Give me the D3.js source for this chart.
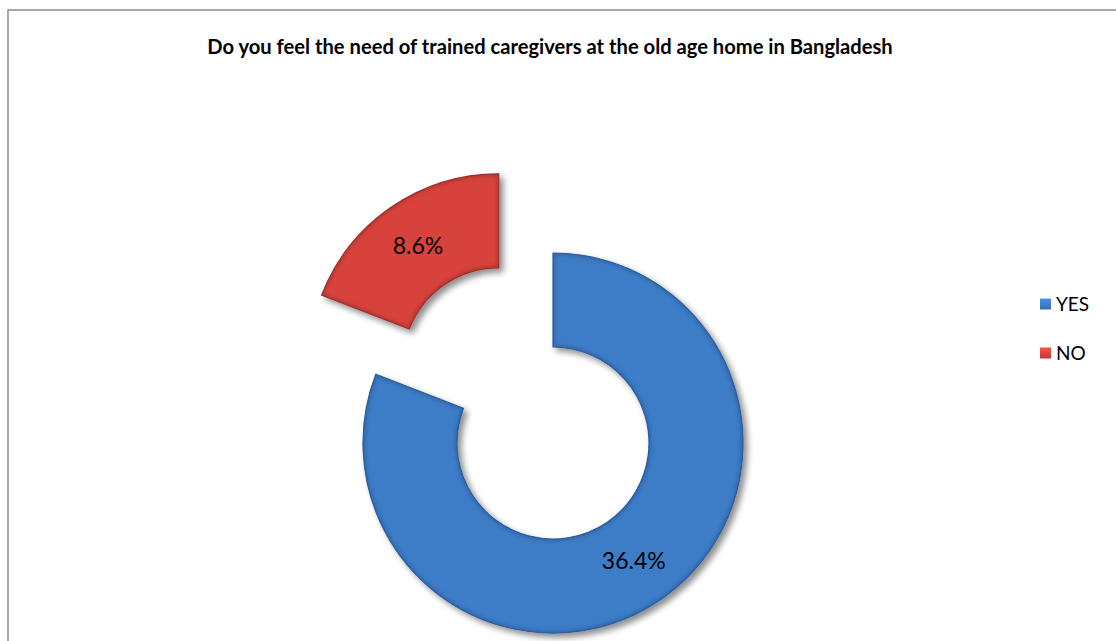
<!DOCTYPE html>
<html>
<head>
<meta charset="utf-8">
<script src="https://cdn.jsdelivr.net/npm/d3@7"></script>
<style>
  html, body { margin: 0; padding: 0; background: #ffffff; }
  svg { display: block; }
</style>
</head>
<body>
<svg id="chart" width="1116" height="641"></svg>
<script>
// Survey answers and their shares (percent)
const categories = ["YES", "NO"];
const values = [36.4, 8.6];
const valueLabels = ["36.4%", "8.6%"];
const colors = ["#3e7bc6", "#d8433d"];
const edgeColors = ["#2c5d9a", "#9e2f2b"];
const titleText = "Do you feel the need of trained caregivers at the old age home in Bangladesh";

const svg = d3.select("#chart");
const W = 1116, H = 641;

// Chart frame (the right and bottom edges run off the page)
svg.append("rect")
  .attr("x", 8).attr("y", 10)
  .attr("width", W + 20).attr("height", H + 20)
  .attr("fill", "#ffffff")
  .attr("stroke", "#8a8a8a").attr("stroke-width", 1.5);

const defs = svg.append("defs");

// Soft drop shadow under the ring pieces
const shadow = defs.append("filter").attr("id", "shadow")
  .attr("x", "-20%").attr("y", "-20%").attr("width", "140%").attr("height", "140%");
shadow.append("feGaussianBlur").attr("in", "SourceAlpha").attr("stdDeviation", 3).attr("result", "blur");
shadow.append("feOffset").attr("in", "blur").attr("dx", 4).attr("dy", 4).attr("result", "off");
shadow.append("feComponentTransfer").attr("in", "off").attr("result", "soft")
  .append("feFuncA").attr("type", "linear").attr("slope", 0.45);
const merge = shadow.append("feMerge");
merge.append("feMergeNode").attr("in", "soft");
merge.append("feMergeNode").attr("in", "SourceGraphic");

// Gentle bevel blur for the inner edge highlight
const bevel = defs.append("filter").attr("id", "bevel");
bevel.append("feGaussianBlur").attr("stdDeviation", 1.6);

// Legend square gradients
categories.forEach((c, i) => {
  const g = defs.append("linearGradient").attr("id", "lg" + i)
    .attr("x1", 0).attr("y1", 0).attr("x2", 0).attr("y2", 1);
  g.append("stop").attr("offset", "0%").attr("stop-color", d3.color(colors[i]).brighter(0.5));
  g.append("stop").attr("offset", "100%").attr("stop-color", d3.color(colors[i]).darker(0.4));
});

// Title
const title = svg.append("text")
  .attr("x", 550).attr("y", 54)
  .attr("text-anchor", "middle")
  .attr("font-family", "Lato, 'Open Sans', sans-serif")
  .attr("font-weight", "bold")
  .attr("font-size", 16)
  .attr("fill", "#000")
  .text(titleText);
{
  const w = title.node().getComputedTextLength();
  title.attr("font-size", 16 * 686 / w);
}

// Donut
const cx = 553, cy = 443;
const outerR = 190, innerR = 96, explode = 96;

const pie = d3.pie().sort(null).value(d => d.value).startAngle(0).endAngle(2 * Math.PI);
const data = pie(categories.map((c, i) => ({ name: c, value: values[i], label: valueLabels[i], i })));

const arc = d3.arc().innerRadius(innerR).outerRadius(outerR);
const midR = (innerR + outerR) / 2;

const slices = svg.append("g").attr("transform", `translate(${cx},${cy})`);

const slice = slices.selectAll("g.slice").data(data).join("g")
  .attr("class", "slice")
  .attr("transform", d => {
    if (d.data.name !== "NO") return null;
    const a = (d.startAngle + d.endAngle) / 2;
    return `translate(${explode * Math.sin(a)},${-explode * Math.cos(a)})`;
  });

slice.append("path")
  .attr("d", arc)
  .attr("fill", d => colors[d.data.i])
  .attr("stroke", d => edgeColors[d.data.i])
  .attr("stroke-width", 1.2)
  .attr("filter", "url(#shadow)");

// Slight dark rim inside each piece for a bevelled look
const clip = slice.append("clipPath").attr("id", d => "clip" + d.data.i);
clip.append("path").attr("d", arc);
slice.append("path")
  .attr("d", arc)
  .attr("fill", "none")
  .attr("stroke", d => edgeColors[d.data.i])
  .attr("stroke-opacity", 0.55)
  .attr("stroke-width", 5)
  .attr("filter", "url(#bevel)")
  .attr("clip-path", d => `url(#clip${d.data.i})`);

slice.append("text")
  .attr("transform", d => {
    const a = (d.startAngle + d.endAngle) / 2;
    return `translate(${midR * Math.sin(a)},${-midR * Math.cos(a)})`;
  })
  .attr("text-anchor", "middle")
  .attr("dy", "0.36em")
  .attr("font-family", "Lato, 'Open Sans', sans-serif")
  .attr("font-size", 23)
  .attr("fill", "#000")
  .text(d => d.data.label);

// Legend
const legend = svg.append("g").attr("transform", "translate(1040,0)");
const legendY = d3.scalePoint().domain(categories).range([304, 353]);
const item = legend.selectAll("g").data(categories).join("g")
  .attr("transform", d => `translate(0,${legendY(d)})`);
item.append("rect")
  .attr("x", 0).attr("y", -5.5)
  .attr("width", 11).attr("height", 11)
  .attr("fill", (d, i) => `url(#lg${i})`);
item.append("text")
  .attr("x", 16).attr("dy", "0.36em")
  .attr("font-family", "Lato, 'Open Sans', sans-serif")
  .attr("font-size", 19)
  .attr("fill", "#000")
  .text(d => d);
</script>
</body>
</html>
